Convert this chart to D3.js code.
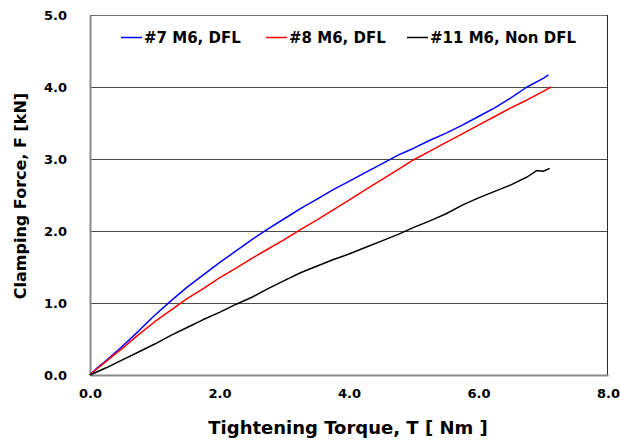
<!DOCTYPE html>
<html>
<head>
<meta charset="utf-8">
<script src="https://cdn.jsdelivr.net/npm/d3@7"></script>
<style>
    body { margin: 0; background: #fff; }
    svg text { font-family: "DejaVu Sans", sans-serif; font-weight: bold; fill: #000; }
</style>
</head>
<body>
<svg id="chart" width="620" height="443"></svg>
<script>
var torque7 = [0, 0.1, 0.25, 0.4, 0.5, 0.75, 1, 1.25, 1.5, 1.75, 2, 2.25, 2.5, 2.75, 3, 3.25, 3.5, 3.75, 4, 4.25, 4.5, 4.75, 5, 5.25, 5.5, 5.75, 6, 6.25, 6.5, 6.75, 7, 7.08];
var force7 = [0, 0.09, 0.20, 0.32, 0.40, 0.61, 0.83, 1.03, 1.22, 1.39, 1.56, 1.72, 1.88, 2.03, 2.17, 2.31, 2.44, 2.57, 2.69, 2.81, 2.93, 3.05, 3.15, 3.26, 3.36, 3.47, 3.59, 3.71, 3.85, 4.00, 4.12, 4.17];

var torque8 = [0, 0.1, 0.25, 0.4, 0.5, 0.75, 1, 1.25, 1.5, 1.75, 2, 2.25, 2.5, 2.75, 3, 3.25, 3.5, 3.75, 4, 4.25, 4.5, 4.75, 5, 5.25, 5.5, 5.75, 6, 6.25, 6.5, 6.75, 7, 7.12];
var force8 = [0, 0.08, 0.19, 0.30, 0.37, 0.56, 0.74, 0.90, 1.06, 1.20, 1.35, 1.48, 1.62, 1.75, 1.88, 2.02, 2.15, 2.29, 2.43, 2.57, 2.71, 2.85, 2.99, 3.11, 3.23, 3.35, 3.47, 3.59, 3.71, 3.82, 3.94, 4.00];

var torque11 = [0, 0.25, 0.5, 0.75, 1, 1.25, 1.5, 1.75, 2, 2.25, 2.5, 2.75, 3, 3.25, 3.5, 3.75, 4, 4.25, 4.5, 4.75, 5, 5.25, 5.5, 5.75, 6, 6.25, 6.5, 6.75, 6.9, 7, 7.1];
var force11 = [0, 0.10, 0.21, 0.32, 0.43, 0.55, 0.66, 0.77, 0.87, 0.98, 1.08, 1.20, 1.31, 1.42, 1.51, 1.60, 1.68, 1.77, 1.86, 1.95, 2.05, 2.14, 2.24, 2.36, 2.46, 2.55, 2.64, 2.75, 2.84, 2.83, 2.87];

var seriesNames = ["#7 M6, DFL", "#8 M6, DFL", "#11 M6, Non DFL"];
var seriesColors = ["#0000ff", "#ff0000", "#000000"];
var xTicks = [0, 2, 4, 6, 8];
var yTicks = [0, 1, 2, 3, 4, 5];

var margin = {left: 90, right: 12, top: 15, bottom: 68};
var width = 620, height = 443;

var svg = d3.select("#chart");

var x = d3.scaleLinear().domain([0, 8]).range([margin.left, width - margin.right]);
var y = d3.scaleLinear().domain([0, 5]).range([height - margin.bottom, margin.top]);

var series = [
    {name: seriesNames[0], color: seriesColors[0], values: d3.zip(torque7, force7)},
    {name: seriesNames[1], color: seriesColors[1], values: d3.zip(torque8, force8)},
    {name: seriesNames[2], color: seriesColors[2], values: d3.zip(torque11, force11)}
];

// horizontal gridlines
svg.append("g")
    .selectAll("line")
    .data(yTicks.slice(1, -1))
    .enter()
  .append("line")
    .attr("x1", x(0))
    .attr("x2", x(8))
    .attr("y1", function (d) { return Math.round(y(d)) + 0.5; })
    .attr("y2", function (d) { return Math.round(y(d)) + 0.5; })
    .attr("stroke", "#4a4a4a")
    .attr("stroke-width", 1);

// plot frame: top and right dark, axes grey
svg.append("line")
    .attr("x1", x(0)).attr("x2", x(8))
    .attr("y1", y(5) + 0.5).attr("y2", y(5) + 0.5)
    .attr("stroke", "#6e6e6e");
svg.append("line")
    .attr("x1", x(8) - 0.5).attr("x2", x(8) - 0.5)
    .attr("y1", y(5)).attr("y2", y(0))
    .attr("stroke", "#2a2a2a");

var xAxis = svg.append("g")
    .attr("transform", "translate(0," + y(0) + ")")
    .call(d3.axisBottom(x).tickValues(xTicks).tickSize(0).tickPadding(14).tickFormat(d3.format(".1f")));

var yAxis = svg.append("g")
    .attr("transform", "translate(" + x(0) + ",0)")
    .call(d3.axisLeft(y).tickValues(yTicks).tickSize(0).tickPadding(23).tickFormat(d3.format(".1f")));

[xAxis, yAxis].forEach(function (a) {
    a.select(".domain").attr("stroke", "#8a8a8a").attr("stroke-width", 2);
    a.selectAll("text").style("font-size", "13px").style("font-family", "'DejaVu Sans', sans-serif").style("font-weight", "bold");
});

var line = d3.line()
    .x(function (d) { return x(d[0]); })
    .y(function (d) { return y(d[1]); });

svg.append("g")
    .selectAll("path")
    .data(series)
    .enter()
  .append("path")
    .attr("d", function (d) { return line(d.values); })
    .attr("fill", "none")
    .attr("stroke", function (d) { return d.color; })
    .attr("stroke-width", 1.5)
    .attr("stroke-linejoin", "round");

// legend
var legendX = [121, 266, 407];
var legend = svg.append("g")
    .selectAll("g")
    .data(series)
    .enter()
  .append("g")
    .attr("transform", function (d, i) { return "translate(" + legendX[i] + ",37.5)"; });

legend.append("line")
    .attr("x1", 0).attr("x2", 21)
    .attr("stroke", function (d) { return d.color; })
    .attr("stroke-width", 1.5);

legend.append("text")
    .attr("x", 23)
    .attr("y", 5.5)
    .style("font-size", "15px")
    .text(function (d) { return d.name; });

// axis titles
svg.append("text")
    .attr("x", 348)
    .attr("y", 434)
    .attr("text-anchor", "middle")
    .style("font-size", "18px")
    .text("Tightening Torque, T [ Nm ]");

svg.append("text")
    .attr("transform", "translate(26,196) rotate(-90)")
    .attr("text-anchor", "middle")
    .style("font-size", "16px")
    .text("Clamping Force, F [kN]");
</script>
</body>
</html>
